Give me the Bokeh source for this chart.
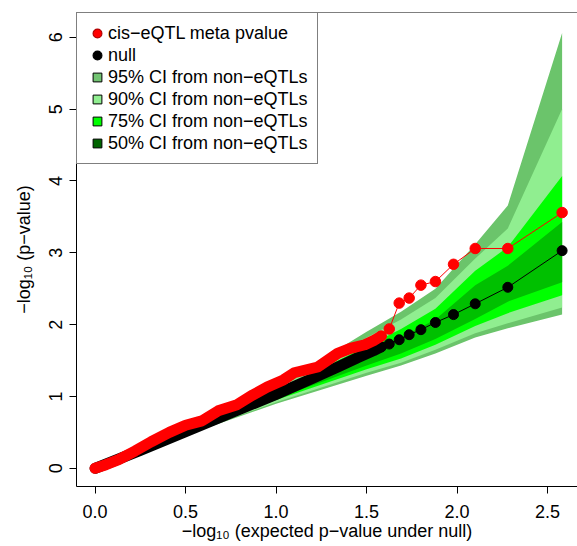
from bokeh.plotting import figure
from bokeh.models import Range1d, FixedTicker, Legend, LegendItem, Span
from bokeh.embed import file_html
from bokeh.resources import INLINE

# ---------------- data ----------------
# CI bands from non-eQTLs, evaluated at these expected -log10 p positions
band_x = [0.0, 0.5, 1.0, 1.5, 1.69, 1.88, 2.10, 2.28, 2.58]
ci95_hi = [0.0, 0.56, 1.13, 1.90, 2.18, 2.50, 3.12, 3.66, 6.06]
ci95_lo = [0.0, 0.46, 0.90, 1.29, 1.43, 1.60, 1.82, 1.95, 2.14]
ci90_hi = [0.0, 0.54, 1.10, 1.82, 2.07, 2.37, 2.92, 3.34, 5.00]
ci90_lo = [0.0, 0.47, 0.92, 1.33, 1.47, 1.65, 1.88, 2.02, 2.24]
ci75_hi = [0.0, 0.53, 1.07, 1.70, 1.94, 2.22, 2.75, 3.08, 4.07]
ci75_lo = [0.0, 0.48, 0.95, 1.38, 1.53, 1.72, 1.98, 2.16, 2.41]
ci50_hi = [0.0, 0.51, 1.04, 1.59, 1.82, 2.07, 2.55, 2.82, 3.43]
ci50_lo = [0.0, 0.49, 0.97, 1.43, 1.60, 1.80, 2.08, 2.32, 2.59]

# cis-eQTL meta p-values: dense body and sparse tail
red_dense_x = [0.0, 0.06, 0.13, 0.22, 0.31, 0.41, 0.50, 0.59, 0.68, 0.78,
               0.87, 0.95, 1.04, 1.10, 1.23, 1.34, 1.41, 1.49, 1.54, 1.58]
red_dense_y = [0.0, 0.05, 0.12, 0.24, 0.37, 0.50, 0.60, 0.66, 0.80, 0.88,
               1.02, 1.13, 1.23, 1.33, 1.41, 1.60, 1.67, 1.72, 1.78, 1.84]
red_tail_x = [1.58, 1.625, 1.68, 1.735, 1.80, 1.88, 1.98, 2.10, 2.28, 2.58]
red_tail_y = [1.84, 1.94, 2.30, 2.37, 2.55, 2.60, 2.84, 3.06, 3.06, 3.56]

# null
blk_dense_x = [0.0, 0.25, 0.5, 0.75, 1.0, 1.2, 1.35, 1.45, 1.54, 1.58]
blk_dense_y = [0.0, 0.25, 0.51, 0.77, 1.03, 1.25, 1.42, 1.54, 1.64, 1.69]
blk_tail_x = [1.58, 1.625, 1.68, 1.735, 1.80, 1.88, 1.98, 2.10, 2.28, 2.58]
blk_tail_y = [1.69, 1.73, 1.79, 1.86, 1.93, 2.03, 2.14, 2.29, 2.52, 3.03]

x_ticks = [0.0, 0.5, 1.0, 1.5, 2.0, 2.5]
x_tick_labels = ["0.0", "0.5", "1.0", "1.5", "2.0", "2.5"]
y_ticks = [0, 1, 2, 3, 4, 5, 6]
y_tick_labels = ["0", "1", "2", "3", "4", "5", "6"]

legend_labels = ["cis\u2212eQTL meta pvalue", "null",
                 "95% CI from non\u2212eQTLs", "90% CI from non\u2212eQTLs",
                 "75% CI from non\u2212eQTLs", "50% CI from non\u2212eQTLs"]
x_title = "\u2212log\u2081\u2080 (expected p\u2212value under null)"
y_title = "\u2212log\u2081\u2080 (p\u2212value)"

# ---------------- styling ----------------
FONT = "Liberation Sans"
C95, C90, C75, C50 = "#6BC46B", "#90EE90", "#00FF00", "#00C000"
L95, L90, L75, L50 = "#72C472", "#90EE90", "#00FF00", "#006400"

X0, X1 = -0.1028, 2.665
Y0, Y1 = -0.253, 6.345

W, H = 577, 546
LEFT, TOP, BOTTOM = 76, 12, 60

p = figure(width=W, height=H, x_range=Range1d(X0, X1), y_range=Range1d(Y0, Y1),
           output_backend="svg", toolbar_location=None,
           min_border_left=LEFT, min_border_right=0, min_border_top=TOP,
           min_border_bottom=BOTTOM)
p.xgrid.visible = False
p.ygrid.visible = False
p.outline_line_color = None
p.background_fill_color = "white"
p.border_fill_color = "white"

# bands
p.varea(x=band_x, y1=ci95_lo, y2=ci95_hi, fill_color=C95)
p.varea(x=band_x, y1=ci90_lo, y2=ci90_hi, fill_color=C90)
p.varea(x=band_x, y1=ci75_lo, y2=ci75_hi, fill_color=C75)
p.varea(x=band_x, y1=ci50_lo, y2=ci50_hi, fill_color=C50)

# null series
p.line(blk_dense_x, blk_dense_y, line_color="black", line_width=11,
       line_join="round", line_cap="round")
p.line(blk_tail_x, blk_tail_y, line_color="black", line_width=1)
p.scatter(blk_tail_x, blk_tail_y, size=10, fill_color="black", line_color="black")

# cis-eQTL series
p.line(red_dense_x, red_dense_y, line_color="#FF0000", line_width=11,
       line_join="round", line_cap="round")
p.line(red_tail_x, red_tail_y, line_color="#FF0000", line_width=1)
p.scatter(red_tail_x, red_tail_y, size=10.5, fill_color="#FF0000", line_color="#FF0000")

# legend proxies (hidden renderers, only used for their legend swatches)
def proxy(marker, fill, line, lw):
    r = p.scatter(band_x[:1], ci50_lo[:1], marker=marker, fill_color=fill,
                  line_color=line, line_width=lw)
    r.visible = False
    return r

r_red = proxy("circle", "#FF0000", "#B00000", 1.2)
r_blk = proxy("circle", "black", "black", 1.2)
r95 = proxy("square", L95, "black", 1)
r90 = proxy("square", L90, "black", 1)
r75 = proxy("square", L75, "black", 1)
r50 = proxy("square", L50, "black", 1)

legend = Legend(items=[LegendItem(label=lab, renderers=[r]) for lab, r in
                       zip(legend_labels, [r_red, r_blk, r95, r90, r75, r50])],
                location="top_left", margin=0, padding=9, spacing=0,
                glyph_width=22, glyph_height=22, label_height=22, label_standoff=0,
                label_text_font=FONT, label_text_font_size="18px", label_text_color="black",
                border_line_color="black", border_line_width=1,
                background_fill_color="white", background_fill_alpha=1.0,
                inactive_fill_alpha=0.0)
p.add_layout(legend, "center")

# top edge of the box
p.add_layout(Span(location=Y1, dimension="width", line_color="black", line_width=1))

# axes
for ax in (p.xaxis[0], p.yaxis[0]):
    ax.axis_line_color = "black"
    ax.axis_line_width = 1
    ax.major_tick_line_color = "black"
    ax.major_tick_out = 7
    ax.major_tick_in = 0
    ax.minor_tick_line_color = None
    ax.major_label_text_font = FONT
    ax.major_label_text_font_size = "18px"
    ax.major_label_text_color = "black"
    ax.axis_label_text_font = FONT
    ax.axis_label_text_font_size = "18px"
    ax.axis_label_text_font_style = "normal"
    ax.axis_label_text_color = "black"

p.xaxis.ticker = FixedTicker(ticks=x_ticks)
p.xaxis.major_label_overrides = {t: l for t, l in zip(x_ticks, x_tick_labels)}
p.xaxis.major_label_standoff = 11
p.xaxis.axis_label = x_title
p.xaxis.axis_label_standoff = 0

p.yaxis.ticker = FixedTicker(ticks=y_ticks)
p.yaxis.major_label_overrides = {t: l for t, l in zip(y_ticks, y_tick_labels)}
p.yaxis.major_label_orientation = "vertical"
p.yaxis.major_label_standoff = 7
p.yaxis.axis_label = y_title
p.yaxis.axis_label_standoff = 13

open("out.html", "w").write(file_html(p, INLINE))
